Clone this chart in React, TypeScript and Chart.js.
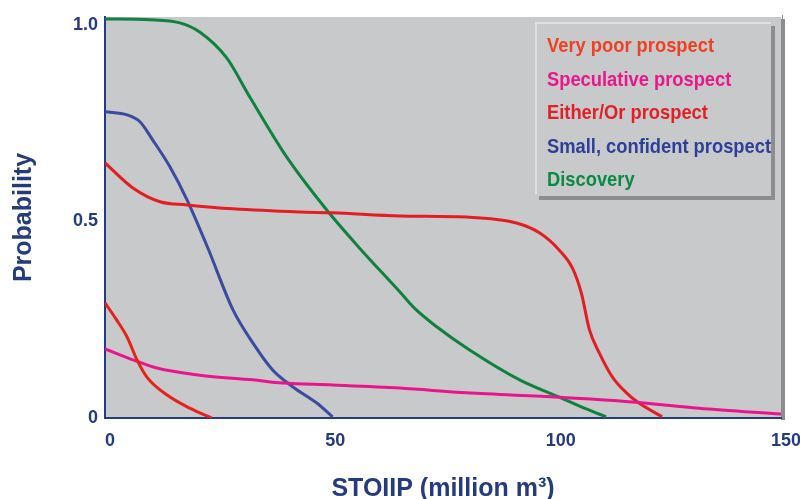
import React, { useEffect, useRef } from "react";
import Chart from "chart.js/auto";

const veryPoorX = [0, 2.6, 4.9, 7.1, 9.3, 13.7, 18.8, 23.7];
const veryPoorY = [0.293, 0.249, 0.206, 0.148, 0.104, 0.059, 0.025, 0];

const speculativeX = [0, 6.2, 11.5, 21, 32.8, 39.4, 50.5, 65.4, 80.2, 100.8, 117, 131.8, 150];
const speculativeY = [0.176, 0.148, 0.127, 0.109, 0.097, 0.089, 0.084, 0.076, 0.064, 0.053, 0.041, 0.025, 0.01];

const eitherOrX = [0, 6.2, 12.2, 18.2, 28.4, 43.2, 50.5, 65.4, 80.2, 91.3, 96.4, 100.8, 103.7, 105.7, 107.5, 109.7, 112.6, 115.7, 118.5, 123.6];
const eitherOrY = [0.649, 0.585, 0.55, 0.542, 0.532, 0.524, 0.522, 0.514, 0.511, 0.496, 0.471, 0.427, 0.382, 0.318, 0.224, 0.165, 0.104, 0.064, 0.038, 0.003];

const smallX = [0, 4.9, 7.8, 10.6, 14.4, 18.2, 22.8, 28.4, 32.8, 37.2, 41.7, 47, 50.5];
const smallY = [0.779, 0.771, 0.753, 0.707, 0.639, 0.555, 0.433, 0.275, 0.191, 0.122, 0.079, 0.038, 0.003];

const discoveryX = [0, 10, 16.6, 21, 27, 32.1, 40.3, 49.2, 56.5, 65.4, 68.6, 73.6, 80.9, 92, 100.8, 106.8, 111.2];
const discoveryY = [1.015, 1.013, 1.005, 0.982, 0.916, 0.817, 0.664, 0.529, 0.432, 0.321, 0.28, 0.232, 0.173, 0.097, 0.053, 0.023, 0.003];

const seriesNames = ["Very poor prospect", "Speculative prospect", "Either/Or prospect", "Small, confident prospect", "Discovery"];
const lineColors = ["#e6221f", "#e8168a", "#e31d24", "#3b4b9e", "#11813f"];
const legendColors = ["#ef4024", "#e9168c", "#e21f26", "#2e3f95", "#0b8a45"];

const xTicks = [0, 50, 100, 150];
const yTicks = [0, 0.5, 1.0];
const yTickLabels = ["0", "0.5", "1.0"];

const xTitle = "STOIIP (million m\u00b3)";
const yTitle = "Probability";

const NAVY = "#243b7d";
const PLOT_GRAY = "#c8c9cb";
const SHADOW = "#8d8d8f";
const FONT = '"Liberation Sans", Arial, sans-serif';

function pairs(xs: number[], ys: number[]) {
  return xs.map((x, i) => ({ x, y: ys[i] }));
}

const bgPlugin = {
  id: "bgPlugin",
  beforeDraw(chart: any) {
    const { ctx, chartArea } = chart;
    const { left, right, top, bottom } = chartArea;
    ctx.save();
    ctx.fillStyle = PLOT_GRAY;
    ctx.fillRect(left, top, right - left, bottom - top);
    ctx.fillStyle = SHADOW;
    ctx.fillRect(right, top + 2, 4, bottom - top);
    ctx.fillRect(right + 1, top - 2, 1, 4);
    ctx.restore();
  },
};

const legendPlugin = {
  id: "legendPlugin",
  afterDraw(chart: any) {
    const { ctx, chartArea } = chart;
    const bx = chartArea.right - 246;
    const by = chartArea.top + 5;
    const bw = 236;
    const bh = 174;
    ctx.save();
    ctx.fillStyle = SHADOW;
    ctx.fillRect(bx + 4, by + 4, bw, bh);
    ctx.fillStyle = PLOT_GRAY;
    ctx.fillRect(bx, by, bw, bh);
    ctx.fillStyle = "#dfe0e1";
    ctx.fillRect(bx, by, bw, 2);
    ctx.fillRect(bx, by, 2, bh - 2);
    ctx.font = "bold 21px " + FONT;
    ctx.textAlign = "left";
    ctx.textBaseline = "alphabetic";
    let widest = 0;
    seriesNames.forEach((n) => {
      widest = Math.max(widest, ctx.measureText(n).width);
    });
    const sx = widest > 0 ? 224 / widest : 1;
    seriesNames.forEach((name, i) => {
      ctx.save();
      ctx.translate(bx + 12, by + 30 + i * 33.6);
      ctx.scale(sx, 1);
      ctx.fillStyle = legendColors[i];
      ctx.fillText(name, 0, 0);
      ctx.restore();
    });
    ctx.restore();
  },
};

export default function App() {
  const canvasRef = useRef<HTMLCanvasElement | null>(null);

  useEffect(() => {
    if (!canvasRef.current) return;
    const xs = [veryPoorX, speculativeX, eitherOrX, smallX, discoveryX];
    const ys = [veryPoorY, speculativeY, eitherOrY, smallY, discoveryY];
    const chart = new Chart(canvasRef.current, {
      type: "line",
      data: {
        datasets: seriesNames.map((name, i) => ({
          label: name,
          data: pairs(xs[i], ys[i]),
          borderColor: lineColors[i],
          backgroundColor: lineColors[i],
          borderWidth: 3,
          pointRadius: 0,
          cubicInterpolationMode: "monotone" as const,
          fill: false,
        })),
      },
      options: {
        animation: false,
        responsive: true,
        maintainAspectRatio: false,
        layout: { padding: { top: 17, right: 19, left: 0, bottom: 0 } },
        plugins: {
          legend: { display: false },
          tooltip: { enabled: false },
        },
        scales: {
          x: {
            type: "linear",
            min: 0,
            max: 150,
            afterBuildTicks: (scale: any) => {
              scale.ticks = xTicks.map((v) => ({ value: v }));
            },
            afterFit: (scale: any) => {
              scale.height = 81;
              scale.paddingLeft = 0;
              scale.paddingRight = 0;
            },
            grid: { display: false, drawTicks: false },
            border: { display: true, color: NAVY, width: 2 },
            ticks: {
              color: NAVY,
              font: { family: FONT, size: 18, weight: "bold" },
              padding: 12,
              labelOffset: 5,
              maxRotation: 0,
              autoSkip: false,
              callback: (v: any) => String(v),
            },
            title: {
              display: true,
              text: xTitle,
              color: NAVY,
              font: { family: FONT, size: 25, weight: "bold", lineHeight: 0.8 },
              padding: { top: 0, bottom: 0 },
            },
          },
          y: {
            type: "linear",
            min: 0,
            max: 1.02,
            afterBuildTicks: (scale: any) => {
              scale.ticks = yTicks.map((v) => ({ value: v }));
            },
            afterFit: (scale: any) => {
              scale.width = 105;
              scale.paddingTop = 0;
              scale.paddingBottom = 0;
            },
            grid: { display: false, drawTicks: false },
            border: { display: true, color: NAVY, width: 2 },
            ticks: {
              color: NAVY,
              font: { family: FONT, size: 18, weight: "bold" },
              padding: 7,
              labelOffset: 0,
              autoSkip: false,
              callback: (v: any) => {
                const idx = yTicks.indexOf(Number(v));
                return idx >= 0 ? yTickLabels[idx] : "";
              },
            },
            title: {
              display: true,
              text: yTitle,
              color: NAVY,
              font: { family: FONT, size: 25, weight: "bold", lineHeight: 1 },
              padding: { top: 12, bottom: 0 },
            },
          },
        },
      },
      plugins: [bgPlugin, legendPlugin],
    });
    return () => chart.destroy();
  }, []);

  return (
    <div style={{ position: "fixed", left: 0, top: 0, width: 800, height: 499, background: "#ffffff" }}>
      <canvas ref={canvasRef} width={800} height={499} />
    </div>
  );
}
